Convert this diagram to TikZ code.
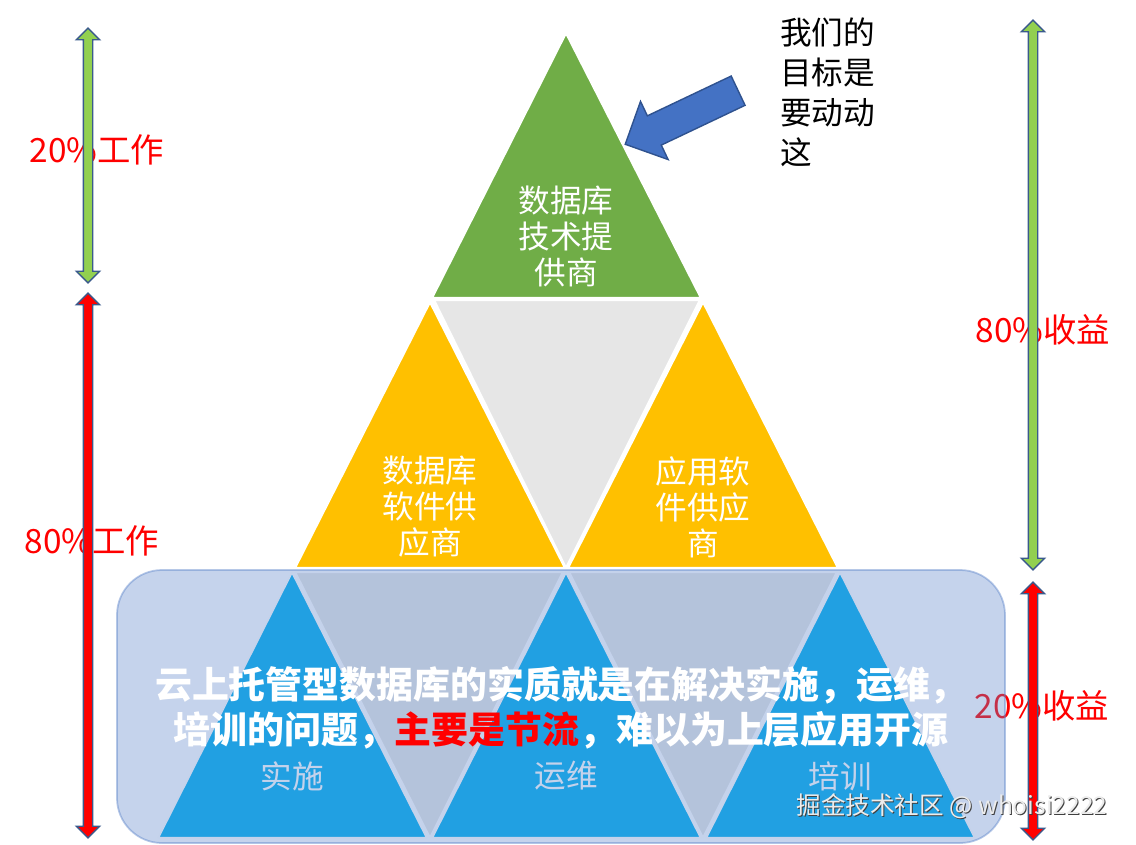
\documentclass[tikz,border=0pt]{standalone}
\usepackage{fontspec}
\setmainfont{Noto Sans CJK SC}
\usetikzlibrary{shapes.arrows, positioning}

\definecolor{topgreen}{HTML}{70AD47}
\definecolor{midyellow}{HTML}{FFC000}
\definecolor{gapgray}{HTML}{E6E6E6}
\definecolor{basecyan}{HTML}{00B0F0}
\definecolor{veilblue}{HTML}{5E85CA}
\definecolor{spangreen}{HTML}{92D050}
\definecolor{spanedge}{HTML}{3A5A8C}
\definecolor{pointblue}{HTML}{4472C4}
\definecolor{pointedge}{HTML}{2F528F}

\tikzset{
  tri/.style={draw=white, line width=1.2pt, line join=round},
  tritext/.style={text=white, align=center, font=\fontsize{18}{20.5}\selectfont},
  pct/.style={text=red, font=\fontsize{19}{22}\selectfont},
  span/.style={double arrow, draw=spanedge, line width=0.8pt, rotate=90,
    inner xsep=0pt, inner ysep=0.08cm, double arrow head extend=0.14cm},
}

\begin{document}
\begin{tikzpicture}[x=0.02cm, y=-0.02cm]
\useasboundingbox (0,0) rectangle (1136,845);

% top level
\draw[tri, fill=topgreen] (566,33) -- (432,298) -- (701,298) -- cycle;
\node[tritext] (tech) at (566,236) {数据库\\技术提\\供商};

% middle level
\draw[tri, fill=gapgray] (434,300) -- (700,300) -- (566,568) -- cycle;
\draw[tri, fill=midyellow] (430,302) -- (295,568) -- (565,568) -- cycle;
\draw[tri, fill=midyellow] (703,302) -- (568,568) -- (838,568) -- cycle;
\node[tritext] (dbsoft) at (430,507) {数据库\\软件供\\应商};
\node[tritext] (appsoft) at (703,507) {应用软\\件供应\\商};

% bottom level
\draw[tri, fill=gapgray] (295,572) -- (563,572) -- (430,838) -- cycle;
\draw[tri, fill=gapgray] (569,572) -- (837,572) -- (703,838) -- cycle;
\draw[tri, fill=basecyan] (292,572) -- (158,838) -- (427,838) -- cycle;
\draw[tri, fill=basecyan] (566,572) -- (432,838) -- (701,838) -- cycle;
\draw[tri, fill=basecyan] (840,572) -- (706,838) -- (975,838) -- cycle;
\node[tritext] (impl) at (292,776) {实施};
\node[tritext] (ops) at (566,776) {运维};
\node[tritext] (train) at (840,776) {培训};

% percentages
\node[pct] (work20) at (97,150) {20\%工作};
\node[pct] (work80) at (92,541) {80\%工作};
\node[pct] (gain80) at (1043,330) {80\%收益};
\node[pct] (gain20) at (1042,706) {20\%收益};

\node[span, fill=spangreen, minimum height=5.1cm] (workhi) at (88,155.5) {};
\node[span, fill=red, minimum height=10.9cm] (worklo) at (88,565.5) {};
\node[span, fill=spangreen, minimum height=11cm] (gainhi) at (1033,295) {};
\node[span, fill=red, minimum height=5.16cm] (gainlo) at (1033,711) {};

% veil over the base
\draw[fill=veilblue, fill opacity=0.36, draw=veilblue, draw opacity=0.45, line width=1pt,
  rounded corners=0.9cm] (117,570) rectangle (1005,843);
\node[text=white, align=center, font=\bfseries\fontsize{21}{25.5}\selectfont] (essence) at (561,708)
  {云上托管型数据库的实质就是在解决实施，运维，\\培训的问题，\textcolor{red}{主要是节流}，难以为上层应用开源};

% callout
\node[single arrow, draw=pointedge, fill=pointblue, line width=0.8pt,
  inner xsep=0pt, inner ysep=0.31cm, minimum height=2.5cm, single arrow head extend=0.32cm,
  rotate=205.4] (pointer) at (689,114) {};
\node[anchor=west, align=left, font=\fontsize{18}{22.7}\selectfont] (goal) at (774,92)
  {我们的\\目标是\\要动动\\这};

% watermark
\node[text=black!75, font=\fontsize{14}{16}\selectfont] (markshade) at (953,807) {掘金技术社区 @ whoisi2222};
\node[text=gray!15, font=\fontsize{14}{16}\selectfont] (mark) at (952,806) {掘金技术社区 @ whoisi2222};

\end{tikzpicture}
\end{document}
